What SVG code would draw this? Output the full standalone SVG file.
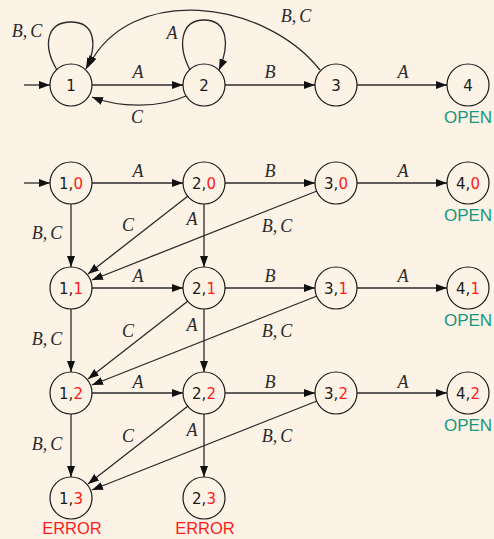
<svg xmlns="http://www.w3.org/2000/svg" width="494" height="539" viewBox="0 0 494 539">
<style>
.n{fill:none;stroke:#1a1a1a;stroke-width:1.2}
.e{fill:none;stroke:#2a2a2a;stroke-width:1.3}
.t{font-family:"DejaVu Sans","Liberation Sans",sans-serif;font-size:15px;fill:#1a1a1a;text-anchor:middle}
.r{fill:#ff1a1a}
.m{font-family:"Liberation Serif",serif;font-style:italic;font-size:18px;fill:#2a2a2a;text-anchor:middle}
.open{font-family:"Liberation Sans",sans-serif;font-size:17px;fill:#16987a;text-anchor:middle}
.err{font-family:"Liberation Sans",sans-serif;font-size:16.5px;fill:#ff1a1a;text-anchor:middle}
</style>
<defs>
<marker id="ah" markerUnits="userSpaceOnUse" markerWidth="12" markerHeight="9" refX="11" refY="4" orient="auto">
<path d="M0,0 L11,4 L0,8 z" fill="#111"/>
</marker>
</defs>
<rect width="494" height="539" fill="#fdf2e6"/>

<g id="connectors" marker-end="url(#ah)">
<!-- top automaton -->
<path class="e" d="M24,85 L50,85"/>
<path class="e" d="M92,85 L183,85"/>
<path class="e" d="M225,85 L315,85"/>
<path class="e" d="M357,85 L447,85"/>
<path class="e" d="M186,96 C160,108 120,108 92,97"/>
<path class="e" d="M57,70 C42,45 47,22 71,22 C95,22 98,45 86,69"/>
<path class="e" d="M190,70 C177,45 181,20 204,20 C228,20 230,45 219,70"/>
<path class="e" d="M320,70 C265,0 130,-18 88,67"/>
<!-- product automaton start -->
<path class="e" d="M24,183 L50,183"/>
<!-- row 0 -->
<path class="e" d="M92,183 L183,183"/>
<path class="e" d="M225,183 L315,183"/>
<path class="e" d="M357,183 L447,183"/>
<path class="e" d="M71,204 L71,267"/>
<path class="e" d="M204,204 L204,267"/>
<path class="e" d="M188,196 L88,274"/>
<path class="e" d="M317,191 L92,280"/>
<!-- row 1 -->
<path class="e" d="M92,288 L183,288"/>
<path class="e" d="M225,288 L315,288"/>
<path class="e" d="M357,288 L447,288"/>
<path class="e" d="M71,309 L71,372"/>
<path class="e" d="M204,309 L204,372"/>
<path class="e" d="M188,301 L88,379"/>
<path class="e" d="M317,296 L92,385"/>
<!-- row 2 -->
<path class="e" d="M92,393 L183,393"/>
<path class="e" d="M225,393 L315,393"/>
<path class="e" d="M357,393 L447,393"/>
<path class="e" d="M71,414 L71,477"/>
<path class="e" d="M204,414 L204,477"/>
<path class="e" d="M188,406 L88,484"/>
<path class="e" d="M317,401 L92,490"/>
</g>

<g id="edge-labels">
<text class="m" x="138" y="78">A</text>
<text class="m" x="137" y="123">C</text>
<text class="m" x="270" y="78">B</text>
<text class="m" x="403" y="78">A</text>
<text class="m" x="27" y="37">B,<tspan dx="3">C</tspan></text>
<text class="m" x="172" y="39">A</text>
<text class="m" x="296" y="22">B,<tspan dx="3">C</tspan></text>

<text class="m" x="138" y="177">A</text>
<text class="m" x="270" y="177">B</text>
<text class="m" x="403" y="177">A</text>
<text class="m" x="47" y="239">B,<tspan dx="3">C</tspan></text>
<text class="m" x="128" y="231">C</text>
<text class="m" x="192" y="225">A</text>
<text class="m" x="277" y="232">B,<tspan dx="3">C</tspan></text>

<text class="m" x="138" y="282">A</text>
<text class="m" x="270" y="282">B</text>
<text class="m" x="403" y="282">A</text>
<text class="m" x="47" y="345">B,<tspan dx="3">C</tspan></text>
<text class="m" x="128" y="337">C</text>
<text class="m" x="192" y="331">A</text>
<text class="m" x="277" y="337">B,<tspan dx="3">C</tspan></text>

<text class="m" x="138" y="388">A</text>
<text class="m" x="270" y="388">B</text>
<text class="m" x="403" y="388">A</text>
<text class="m" x="47" y="450">B,<tspan dx="3">C</tspan></text>
<text class="m" x="128" y="442">C</text>
<text class="m" x="192" y="436">A</text>
<text class="m" x="277" y="442">B,<tspan dx="3">C</tspan></text>
</g>

<g id="n1"><circle class="n" cx="71" cy="85" r="21"/><text class="t" x="71" y="90.5">1</text></g>
<g id="n2"><circle class="n" cx="204" cy="85" r="21"/><text class="t" x="204" y="90.5">2</text></g>
<g id="n3"><circle class="n" cx="336" cy="85" r="21"/><text class="t" x="336" y="90.5">3</text></g>
<g id="n4"><circle class="n" cx="468" cy="85" r="21"/><text class="t" x="468" y="90.5">4</text><text class="open" x="468" y="123">OPEN</text></g>

<g id="n10"><circle class="n" cx="71" cy="183" r="21"/><text class="t" x="71" y="188.5">1,<tspan class="r">0</tspan></text></g>
<g id="n20"><circle class="n" cx="204" cy="183" r="21"/><text class="t" x="204" y="188.5">2,<tspan class="r">0</tspan></text></g>
<g id="n30"><circle class="n" cx="336" cy="183" r="21"/><text class="t" x="336" y="188.5">3,<tspan class="r">0</tspan></text></g>
<g id="n40"><circle class="n" cx="468" cy="183" r="21"/><text class="t" x="468" y="188.5">4,<tspan class="r">0</tspan></text><text class="open" x="468" y="221">OPEN</text></g>

<g id="n11"><circle class="n" cx="71" cy="288" r="21"/><text class="t" x="71" y="293.5">1,<tspan class="r">1</tspan></text></g>
<g id="n21"><circle class="n" cx="204" cy="288" r="21"/><text class="t" x="204" y="293.5">2,<tspan class="r">1</tspan></text></g>
<g id="n31"><circle class="n" cx="336" cy="288" r="21"/><text class="t" x="336" y="293.5">3,<tspan class="r">1</tspan></text></g>
<g id="n41"><circle class="n" cx="468" cy="288" r="21"/><text class="t" x="468" y="293.5">4,<tspan class="r">1</tspan></text><text class="open" x="468" y="326">OPEN</text></g>

<g id="n12"><circle class="n" cx="71" cy="393" r="21"/><text class="t" x="71" y="398.5">1,<tspan class="r">2</tspan></text></g>
<g id="n22"><circle class="n" cx="204" cy="393" r="21"/><text class="t" x="204" y="398.5">2,<tspan class="r">2</tspan></text></g>
<g id="n32"><circle class="n" cx="336" cy="393" r="21"/><text class="t" x="336" y="398.5">3,<tspan class="r">2</tspan></text></g>
<g id="n42"><circle class="n" cx="468" cy="393" r="21"/><text class="t" x="468" y="398.5">4,<tspan class="r">2</tspan></text><text class="open" x="468" y="431">OPEN</text></g>

<g id="n13"><circle class="n" cx="71" cy="498" r="21"/><text class="t" x="71" y="503.5">1,<tspan class="r">3</tspan></text><text class="err" x="72" y="534">ERROR</text></g>
<g id="n23"><circle class="n" cx="204" cy="498" r="21"/><text class="t" x="204" y="503.5">2,<tspan class="r">3</tspan></text><text class="err" x="205" y="534">ERROR</text></g>
</svg>
